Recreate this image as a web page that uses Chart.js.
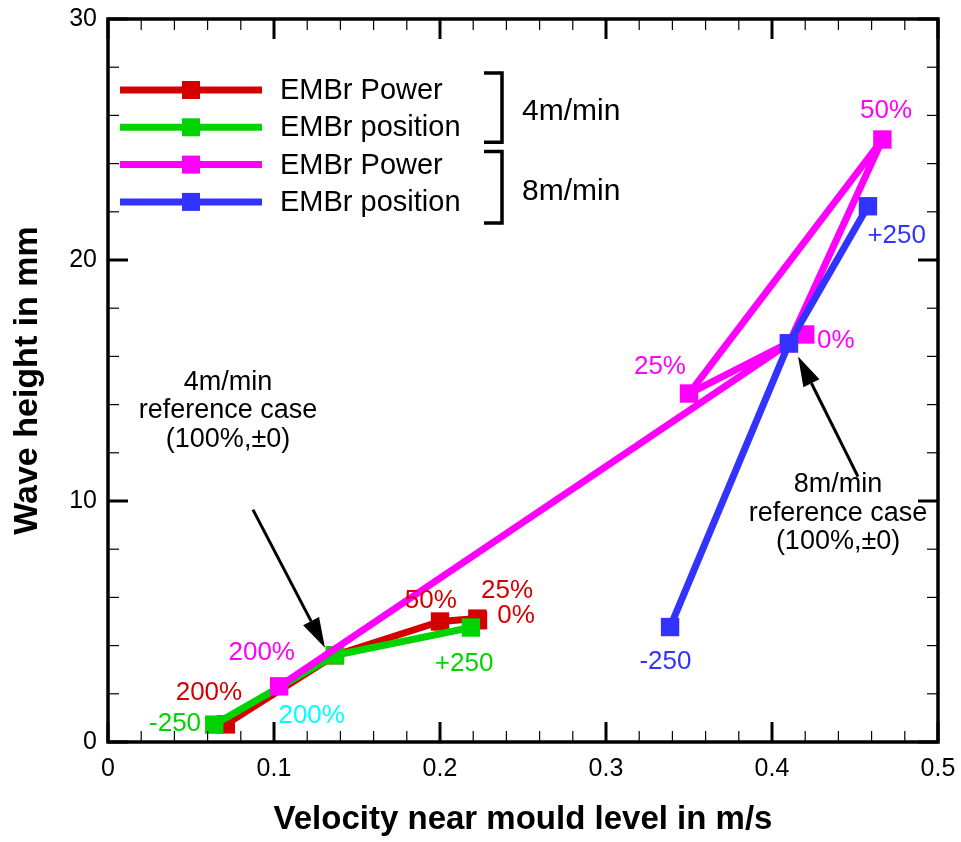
<!DOCTYPE html>
<html>
<head>
<meta charset="utf-8">
<script src="https://cdn.jsdelivr.net/npm/chart.js@4.4.0/dist/chart.umd.min.js"></script>
<style>
  html, body { margin: 0; padding: 0; background: #fff; }
  #wrap { width: 961px; height: 842px; }
</style>
</head>
<body>
<div id="wrap"><canvas id="chart"></canvas></div>
<script>
// values (x: velocity m/s, y: wave height mm)
const red4X = [0.071, 0.1367, 0.200, 0.2225, 0.2229];
const red4Y = [0.73, 3.60, 5.00, 5.12, 5.05];
const green4X = [0.064, 0.1367, 0.2186];
const green4Y = [0.72, 3.60, 4.75];
const mag8X = [0.1031, 0.4102, 0.4665, 0.350, 0.420];
const mag8Y = [2.31, 16.54, 25.0, 14.46, 16.91];
const blue8X = [0.3386, 0.4102, 0.4578];
const blue8Y = [4.77, 16.54, 22.23];

const seriesNames = ['EMBr Power', 'EMBr position', 'EMBr Power', 'EMBr position'];
const groupNames = ['4m/min', '8m/min'];
const xTicks = [0, 0.1, 0.2, 0.3, 0.4, 0.5];
const yTicks = [0, 10, 20, 30];

const RED = '#d40000', GREEN = '#00d400', MAGENTA = '#ff00ff', BLUE = '#3333ff', CYAN = '#00ffff';
const FONT = '"Liberation Sans", Arial, sans-serif';

// text labels next to points, anchored in data units
const pointLabels = [
  { t: '200%', c: RED, x: 0.0608, y: 2.06 },
  { t: '50%', c: RED, x: 0.1945, y: 5.86 },
  { t: '25%', c: RED, x: 0.2404, y: 6.28 },
  { t: '0%', c: RED, x: 0.2458, y: 5.24 },
  { t: '-250', c: GREEN, x: 0.0404, y: 0.77 },
  { t: '+250', c: GREEN, x: 0.2145, y: 3.24 },
  { t: '200%', c: MAGENTA, x: 0.0926, y: 3.72 },
  { t: '200%', c: CYAN, x: 0.1227, y: 1.08 },
  { t: '25%', c: MAGENTA, x: 0.3325, y: 15.56 },
  { t: '50%', c: MAGENTA, x: 0.4687, y: 26.19 },
  { t: '0%', c: MAGENTA, x: 0.4385, y: 16.65 },
  { t: '+250', c: BLUE, x: 0.4751, y: 21.01 },
  { t: '-250', c: BLUE, x: 0.3358, y: 3.32 }
];

const notes = [
  { lines: ['4m/min', 'reference case', '(100%,\u00b10)'], x: 0.0723, y: 14.92,
    from: [0.0873, 9.64], to: [0.1307, 3.91] },
  { lines: ['8m/min', 'reference case', '(100%,\u00b10)'], x: 0.4398, y: 10.68,
    from: [0.4518, 11.01], to: [0.4157, 16.0] }
];

const toPts = (xs, ys) => xs.map((v, i) => ({ x: v, y: ys[i] }));

function series(label, xs, ys, color, order) {
  return {
    label, data: toPts(xs, ys), showLine: true, order,
    borderColor: color, backgroundColor: color, borderWidth: 7,
    borderJoinStyle: 'round', borderCapStyle: 'butt',
    pointStyle: 'rect', pointRadius: 13, pointBorderWidth: 0,
    pointBackgroundColor: color, pointHoverRadius: 13
  };
}

const frameTicks = {
  id: 'frameTicks',
  afterDatasetsDraw(chart) {
    const { ctx, chartArea: a, scales: { x, y } } = chart;
    ctx.save();
    ctx.strokeStyle = '#000';
    const seg = (x1, y1, x2, y2, w) => {
      ctx.lineWidth = w;
      ctx.beginPath(); ctx.moveTo(x1, y1); ctx.lineTo(x2, y2); ctx.stroke();
    };
    for (let i = 0; i <= 25; i++) {
      const px = x.getPixelForValue(i * 0.02);
      const major = i % 5 === 0;
      const len = major ? 20 : 11, w = major ? 3 : 1.2;
      seg(px, a.bottom, px, a.bottom - len, w);
      seg(px, a.top, px, a.top + len, w);
    }
    for (let i = 0; i <= 15; i++) {
      const py = y.getPixelForValue(i * 2);
      const major = i % 5 === 0;
      const len = major ? 20 : 11, w = major ? 3 : 1.2;
      seg(a.left, py, a.left + len, py, w);
      seg(a.right, py, a.right - len, py, w);
    }
    ctx.lineWidth = 3.5;
    ctx.strokeRect(a.left, a.top, a.right - a.left, a.bottom - a.top);
    ctx.restore();
  }
};

const annotations = {
  id: 'annotations',
  afterDatasetsDraw(chart) {
    const { ctx, scales: { x, y } } = chart;
    ctx.save();
    ctx.textAlign = 'center';
    ctx.textBaseline = 'middle';
    ctx.font = '26px ' + FONT;
    pointLabels.forEach(l => {
      ctx.fillStyle = l.c;
      ctx.fillText(l.t, x.getPixelForValue(l.x), y.getPixelForValue(l.y));
    });

    notes.forEach(n => {
      ctx.fillStyle = '#000';
      ctx.font = '27px ' + FONT;
      const cx = x.getPixelForValue(n.x), cy = y.getPixelForValue(n.y);
      n.lines.forEach((s, i) => ctx.fillText(s, cx, cy + i * 28.5));
      // arrow
      const x1 = x.getPixelForValue(n.from[0]), y1 = y.getPixelForValue(n.from[1]);
      const x2 = x.getPixelForValue(n.to[0]), y2 = y.getPixelForValue(n.to[1]);
      const ang = Math.atan2(y2 - y1, x2 - x1);
      const hl = 30, hw = 9;
      const bx = x2 - hl * Math.cos(ang), by = y2 - hl * Math.sin(ang);
      ctx.strokeStyle = '#000';
      ctx.lineWidth = 3;
      ctx.beginPath(); ctx.moveTo(x1, y1); ctx.lineTo(bx, by); ctx.stroke();
      ctx.beginPath();
      ctx.moveTo(x2, y2);
      ctx.lineTo(bx + hw * Math.sin(ang), by - hw * Math.cos(ang));
      ctx.lineTo(bx - hw * Math.sin(ang), by + hw * Math.cos(ang));
      ctx.closePath();
      ctx.fillStyle = '#000';
      ctx.fill();
    });
    ctx.restore();
  }
};

// legend box in the upper left of the plot, with brackets grouping the speeds
const bracketLegend = {
  id: 'bracketLegend',
  afterDatasetsDraw(chart) {
    const { ctx, chartArea: a } = chart;
    const colors = [RED, GREEN, MAGENTA, BLUE];
    const x0 = a.left + 12, x1 = a.left + 154, mx = a.left + 83;
    const rowY = i => a.top + 71 + i * 37.3;
    ctx.save();
    ctx.textBaseline = 'middle';
    ctx.textAlign = 'left';
    ctx.font = '29px ' + FONT;
    seriesNames.forEach((name, i) => {
      const yy = rowY(i);
      ctx.strokeStyle = colors[i];
      ctx.lineWidth = 7;
      ctx.beginPath(); ctx.moveTo(x0, yy); ctx.lineTo(x1, yy); ctx.stroke();
      ctx.fillStyle = colors[i];
      ctx.fillRect(mx - 9, yy - 9, 18, 18);
      ctx.fillStyle = '#000';
      ctx.fillText(name, a.left + 172, yy + 1);
    });
    groupNames.forEach((g, k) => {
      const top = rowY(2 * k) - (k === 0 ? 17 : 13);
      const bot = rowY(2 * k + 1) + (k === 0 ? 15 : 21);
      const bxr = a.left + 394, bxl = a.left + 376;
      ctx.strokeStyle = '#000';
      ctx.lineWidth = 3.5;
      ctx.lineJoin = 'miter';
      ctx.beginPath();
      ctx.moveTo(bxl, top); ctx.lineTo(bxr, top); ctx.lineTo(bxr, bot); ctx.lineTo(bxl, bot);
      ctx.stroke();
      ctx.fillStyle = '#000';
      ctx.font = '30px ' + FONT;
      ctx.fillText(g, a.left + 414, (top + bot) / 2 + 4);
    });
    ctx.restore();
  }
};

new Chart(document.getElementById('chart'), {
  type: 'scatter',
  data: {
    datasets: [
      series('EMBr Power 4m/min', red4X, red4Y, RED, 4),
      series('EMBr position 4m/min', green4X, green4Y, GREEN, 3),
      series('EMBr Power 8m/min', mag8X, mag8Y, MAGENTA, 2),
      series('EMBr position 8m/min', blue8X, blue8Y, BLUE, 1)
    ]
  },
  options: {
    responsive: true,
    maintainAspectRatio: false,
    animation: false,
    layout: { padding: { top: 19, right: 23, left: 0, bottom: 0 } },
    plugins: { legend: { display: false }, tooltip: { enabled: false } },
    scales: {
      x: {
        type: 'linear', min: 0, max: 0.5,
        afterFit: s => { s.height = 100; s.paddingLeft = 0; s.paddingRight = 0; },
        afterBuildTicks: s => { s.ticks = xTicks.map(v => ({ value: v })); },
        ticks: { color: '#000', padding: 12, font: { family: FONT, size: 25 },
                 callback: v => String(v) },
        grid: { display: false, drawTicks: false },
        border: { display: false },
        title: { display: true, text: 'Velocity near mould level in m/s', color: '#000',
                 font: { family: FONT, size: 33, weight: 'bold' }, padding: { top: 0, bottom: 2 } }
      },
      y: {
        min: 0, max: 30,
        afterFit: s => { s.width = 108; s.paddingTop = 0; s.paddingBottom = 0; },
        afterBuildTicks: s => { s.ticks = yTicks.map(v => ({ value: v })); },
        ticks: { color: '#000', padding: 11, font: { family: FONT, size: 25 } },
        grid: { display: false, drawTicks: false },
        border: { display: false },
        title: { display: true, text: 'Wave height in mm', color: '#000',
                 font: { family: FONT, size: 34, weight: 'bold' }, padding: { top: 7, bottom: 0 } }
      }
    }
  },
  plugins: [frameTicks, annotations, bracketLegend]
});
</script>
</body>
</html>
